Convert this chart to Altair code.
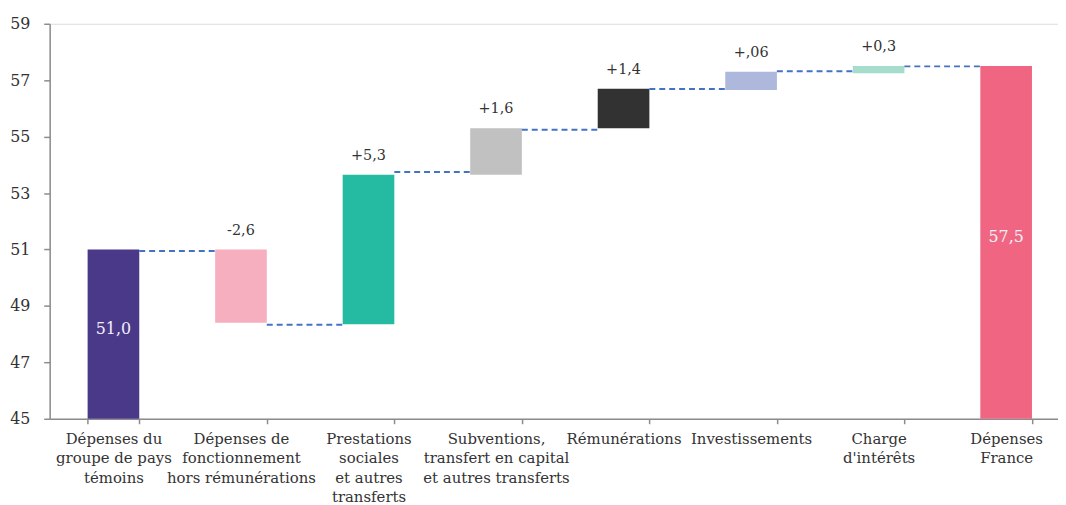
import altair as alt
import pandas as pd

categories = [
    "Dépenses du\ngroupe de pays\ntémoins",
    "Dépenses de\nfonctionnement\nhors rémunérations",
    "Prestations\nsociales\net autres\ntransferts",
    "Subventions,\ntransfert en capital\net autres transferts",
    "Rémunérations",
    "Investissements",
    "Charge\nd'intérêts",
    "Dépenses\nFrance",
]
bar_low = [45.0, 48.4, 48.35, 53.65, 55.3, 56.65, 57.25, 45.0]
bar_high = [51.0, 51.0, 53.65, 55.3, 56.7, 57.3, 57.5, 57.5]
change_labels = ["", "-2,6", "+5,3", "+1,6", "+1,4", "+,06", "+0,3", ""]
total_labels = ["51,0", "", "", "", "", "", "", "57,5"]
bar_colors = ["#4A3989", "#F5AFBF", "#25BBA3", "#C1C1C1", "#323232", "#AEB8DC", "#A5DCCB", "#F06682"]
connector_levels = [50.95, 48.33, 53.75, 55.24, 56.69, 57.32, 57.49]
y_ticks = [45, 47, 49, 51, 53, 55, 57, 59]

FONT = "DejaVu Serif"

bars = pd.DataFrame({
    "cat": categories,
    "low": bar_low,
    "high": bar_high,
    "mid": [(a + b) / 2 for a, b in zip(bar_low, bar_high)],
    "change": change_labels,
    "total": total_labels,
    "color": bar_colors,
})
conn = pd.DataFrame({
    "cat": categories[:-1],
    "next_cat": categories[1:],
    "level": connector_levels,
})

# the last category band runs past the right edge of the picture, as in the original
xscale = alt.Scale(domain=categories, paddingInner=0.595, paddingOuter=0.2508, align=0.593)
yscale = alt.Scale(domain=[45, 59], zero=False, nice=False)

xaxis = alt.Axis(
    title=None, labelAngle=0, labelExpr="split(datum.label, '\\n')",
    labelFont=FONT, labelFontSize=15, labelColor="#333333", labelLineHeight=19.5,
    labelBaseline="top", labelPadding=8, tickSize=5, tickBand="extent",
    domainColor="#8C8C8C", tickColor="#8C8C8C", domainWidth=1.5, tickWidth=1.5,
    grid=False, labelOverlap=False,
)
yaxis = alt.Axis(
    title=None, values=y_ticks, labelFont=FONT, labelFontSize=16, labelColor="#333333",
    labelPadding=14, tickSize=6, domainColor="#8C8C8C", tickColor="#8C8C8C",
    domainWidth=1.5, tickWidth=1.5, grid=False,
)

base = alt.Chart(bars)

bar_layer = base.mark_bar().encode(
    x=alt.X("cat:N", sort=categories, scale=xscale, axis=xaxis),
    y=alt.Y("low:Q", scale=yscale, axis=yaxis),
    y2="high:Q",
    color=alt.Color("color:N", scale=None, legend=None),
)

rule_layer = alt.Chart(conn).mark_rule(
    color="#4472C4", strokeWidth=2, strokeDash=[6, 4], xOffset=26, x2Offset=-24
).encode(
    x=alt.X("cat:N", sort=categories, scale=xscale),
    x2="next_cat:N",
    y=alt.Y("level:Q", scale=yscale),
)

change_text = base.mark_text(
    font=FONT, fontSize=14.5, color="#333333", baseline="middle", dy=-19
).encode(
    x=alt.X("cat:N", sort=categories, scale=xscale),
    y=alt.Y("high:Q", scale=yscale),
    text="change:N",
)

total_text = base.mark_text(
    font=FONT, fontSize=16, color="#F2F0F8", baseline="middle", dy=-5
).encode(
    x=alt.X("cat:N", sort=categories, scale=xscale),
    y=alt.Y("mid:Q", scale=yscale),
    text="total:N",
)

chart = alt.layer(bar_layer, rule_layer, change_text, total_text).properties(
    width=1016, height=398,
    autosize=alt.AutoSizeParams(type="none"),
    padding={"left": 42, "top": 14, "right": 0, "bottom": 85},
).configure_view(stroke=None).configure(background="white")

chart.save("out.html", embed_options={"renderer": "svg", "actions": False})
